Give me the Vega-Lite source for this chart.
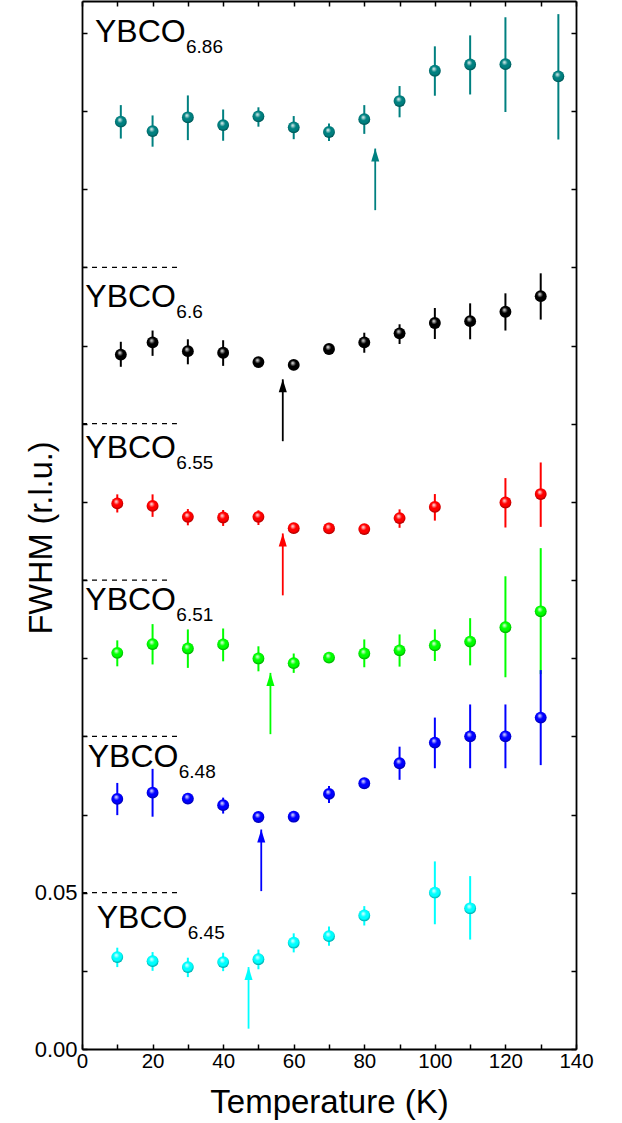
{
  "$schema": "https://vega.github.io/schema/vega-lite/v6.json",
  "width": 494,
  "height": 1048,
  "autosize": {"type": "none"},
  "padding": {"left": 82, "top": 1, "right": 46, "bottom": 74},
  "background": "white",
  "config": {
    "view": {"stroke": null},
    "font": "Liberation Sans",
    "axis": {
      "labelFont": "Liberation Sans",
      "titleFont": "Liberation Sans",
      "labelColor": "black",
      "titleColor": "black",
      "domainColor": "black",
      "tickColor": "black",
      "domainWidth": 1.8,
      "tickWidth": 1.5,
      "tickSize": -5,
      "grid": false,
      "labelFlush": false,
      "labelFontSize": 21,
      "titleFontSize": 32.5,
      "titleFontWeight": "normal"
    }
  },
  "datasets": {
    "points": [
      {"s": "6.86", "T": 11, "v": 0.2966, "lo": 0.2912, "hi": 0.3019},
      {"s": "6.86", "T": 20, "v": 0.2936, "lo": 0.2886, "hi": 0.2986},
      {"s": "6.86", "T": 30, "v": 0.2980, "lo": 0.2907, "hi": 0.3050},
      {"s": "6.86", "T": 40, "v": 0.2955, "lo": 0.2905, "hi": 0.3005},
      {"s": "6.86", "T": 50, "v": 0.2983, "lo": 0.2950, "hi": 0.3012},
      {"s": "6.86", "T": 60, "v": 0.2948, "lo": 0.2910, "hi": 0.2984},
      {"s": "6.86", "T": 70, "v": 0.2933, "lo": 0.2904, "hi": 0.2960},
      {"s": "6.86", "T": 80, "v": 0.2974, "lo": 0.2927, "hi": 0.3019},
      {"s": "6.86", "T": 90, "v": 0.3032, "lo": 0.2980, "hi": 0.3080},
      {"s": "6.86", "T": 100, "v": 0.3129, "lo": 0.3049, "hi": 0.3207},
      {"s": "6.86", "T": 110, "v": 0.3149, "lo": 0.3053, "hi": 0.3242},
      {"s": "6.86", "T": 120, "v": 0.3150, "lo": 0.2997, "hi": 0.3300},
      {"s": "6.86", "T": 135, "v": 0.3111, "lo": 0.2909, "hi": 0.3310},
      {"s": "6.6", "T": 11, "v": 0.2221, "lo": 0.2182, "hi": 0.2262},
      {"s": "6.6", "T": 20, "v": 0.2260, "lo": 0.2217, "hi": 0.2298},
      {"s": "6.6", "T": 30, "v": 0.2232, "lo": 0.2190, "hi": 0.2270},
      {"s": "6.6", "T": 40, "v": 0.2227, "lo": 0.2185, "hi": 0.2267},
      {"s": "6.6", "T": 50, "v": 0.2197, "lo": 0.2187, "hi": 0.2207},
      {"s": "6.6", "T": 60, "v": 0.2188, "lo": 0.2178, "hi": 0.2198},
      {"s": "6.6", "T": 70, "v": 0.2239, "lo": 0.2229, "hi": 0.2249},
      {"s": "6.6", "T": 80, "v": 0.2260, "lo": 0.2227, "hi": 0.2291},
      {"s": "6.6", "T": 90, "v": 0.2289, "lo": 0.2255, "hi": 0.2318},
      {"s": "6.6", "T": 100, "v": 0.2322, "lo": 0.2271, "hi": 0.2370},
      {"s": "6.6", "T": 110, "v": 0.2328, "lo": 0.2270, "hi": 0.2385},
      {"s": "6.6", "T": 120, "v": 0.2358, "lo": 0.2298, "hi": 0.2417},
      {"s": "6.6", "T": 130, "v": 0.2408, "lo": 0.2333, "hi": 0.2481},
      {"s": "6.55", "T": 10, "v": 0.1745, "lo": 0.1716, "hi": 0.1774},
      {"s": "6.55", "T": 20, "v": 0.1737, "lo": 0.1702, "hi": 0.1774},
      {"s": "6.55", "T": 30, "v": 0.1702, "lo": 0.1675, "hi": 0.1727},
      {"s": "6.55", "T": 40, "v": 0.1700, "lo": 0.1673, "hi": 0.1724},
      {"s": "6.55", "T": 50, "v": 0.1702, "lo": 0.1676, "hi": 0.1723},
      {"s": "6.55", "T": 60, "v": 0.1666, "lo": 0.1656, "hi": 0.1676},
      {"s": "6.55", "T": 70, "v": 0.1665, "lo": 0.1655, "hi": 0.1675},
      {"s": "6.55", "T": 80, "v": 0.1663, "lo": 0.1653, "hi": 0.1673},
      {"s": "6.55", "T": 90, "v": 0.1698, "lo": 0.1667, "hi": 0.1726},
      {"s": "6.55", "T": 100, "v": 0.1734, "lo": 0.1690, "hi": 0.1775},
      {"s": "6.55", "T": 120, "v": 0.1748, "lo": 0.1668, "hi": 0.1826},
      {"s": "6.55", "T": 130, "v": 0.1775, "lo": 0.1670, "hi": 0.1876},
      {"s": "6.51", "T": 10, "v": 0.1267, "lo": 0.1224, "hi": 0.1307},
      {"s": "6.51", "T": 20, "v": 0.1295, "lo": 0.1230, "hi": 0.1359},
      {"s": "6.51", "T": 30, "v": 0.1281, "lo": 0.1219, "hi": 0.1342},
      {"s": "6.51", "T": 40, "v": 0.1294, "lo": 0.1240, "hi": 0.1345},
      {"s": "6.51", "T": 50, "v": 0.1249, "lo": 0.1208, "hi": 0.1288},
      {"s": "6.51", "T": 60, "v": 0.1234, "lo": 0.1203, "hi": 0.1265},
      {"s": "6.51", "T": 70, "v": 0.1252, "lo": 0.1240, "hi": 0.1264},
      {"s": "6.51", "T": 80, "v": 0.1265, "lo": 0.1221, "hi": 0.1310},
      {"s": "6.51", "T": 90, "v": 0.1275, "lo": 0.1223, "hi": 0.1326},
      {"s": "6.51", "T": 100, "v": 0.1291, "lo": 0.1241, "hi": 0.1342},
      {"s": "6.51", "T": 110, "v": 0.1303, "lo": 0.1227, "hi": 0.1378},
      {"s": "6.51", "T": 120, "v": 0.1349, "lo": 0.1189, "hi": 0.1512},
      {"s": "6.51", "T": 130, "v": 0.1400, "lo": 0.1199, "hi": 0.1602},
      {"s": "6.48", "T": 10, "v": 0.0800, "lo": 0.0748, "hi": 0.0851},
      {"s": "6.48", "T": 20, "v": 0.0820, "lo": 0.0743, "hi": 0.0896},
      {"s": "6.48", "T": 30, "v": 0.0801, "lo": 0.0791, "hi": 0.0811},
      {"s": "6.48", "T": 40, "v": 0.0780, "lo": 0.0753, "hi": 0.0804},
      {"s": "6.48", "T": 50, "v": 0.0742, "lo": 0.0727, "hi": 0.0757},
      {"s": "6.48", "T": 60, "v": 0.0743, "lo": 0.0733, "hi": 0.0753},
      {"s": "6.48", "T": 70, "v": 0.0816, "lo": 0.0787, "hi": 0.0841},
      {"s": "6.48", "T": 80, "v": 0.0850, "lo": 0.0840, "hi": 0.0860},
      {"s": "6.48", "T": 90, "v": 0.0914, "lo": 0.0861, "hi": 0.0967},
      {"s": "6.48", "T": 100, "v": 0.0980, "lo": 0.0898, "hi": 0.1060},
      {"s": "6.48", "T": 110, "v": 0.1000, "lo": 0.0898, "hi": 0.1102},
      {"s": "6.48", "T": 120, "v": 0.1000, "lo": 0.0898, "hi": 0.1102},
      {"s": "6.48", "T": 130, "v": 0.1060, "lo": 0.0908, "hi": 0.1212},
      {"s": "6.45", "T": 10, "v": 0.0294, "lo": 0.0262, "hi": 0.0324},
      {"s": "6.45", "T": 20, "v": 0.0281, "lo": 0.0250, "hi": 0.0310},
      {"s": "6.45", "T": 30, "v": 0.0262, "lo": 0.0230, "hi": 0.0292},
      {"s": "6.45", "T": 40, "v": 0.0278, "lo": 0.0249, "hi": 0.0308},
      {"s": "6.45", "T": 50, "v": 0.0287, "lo": 0.0255, "hi": 0.0318},
      {"s": "6.45", "T": 60, "v": 0.0340, "lo": 0.0309, "hi": 0.0370},
      {"s": "6.45", "T": 70, "v": 0.0361, "lo": 0.0330, "hi": 0.0392},
      {"s": "6.45", "T": 80, "v": 0.0427, "lo": 0.0395, "hi": 0.0457},
      {"s": "6.45", "T": 100, "v": 0.0500, "lo": 0.0399, "hi": 0.0600},
      {"s": "6.45", "T": 110, "v": 0.0450, "lo": 0.0350, "hi": 0.0553}
    ],
    "arrows": [
      {"s": "6.86", "T": 83.1, "tail": 0.2683, "tip": 0.2880},
      {"s": "6.6", "T": 56.9, "tail": 0.1944, "tip": 0.2142},
      {"s": "6.55", "T": 56.9, "tail": 0.1451, "tip": 0.1649},
      {"s": "6.51", "T": 53.4, "tail": 0.1007, "tip": 0.1203},
      {"s": "6.48", "T": 50.8, "tail": 0.0505, "tip": 0.0702},
      {"s": "6.45", "T": 47.2, "tail": 0.0065, "tip": 0.0262}
    ],
    "labels": [
      {"s": "6.86", "T": 3.69, "y": 0.3221},
      {"s": "6.6", "T": 0.94, "y": 0.2374},
      {"s": "6.55", "T": 0.94, "y": 0.1889},
      {"s": "6.51", "T": 0.94, "y": 0.1403},
      {"s": "6.48", "T": 1.62, "y": 0.0902},
      {"s": "6.45", "T": 4.17, "y": 0.0388}
    ],
    "dashes": [
      {"y": 0.05, "xstart": 0, "xend": 27.8},
      {"y": 0.10, "xstart": 0, "xend": 27.4},
      {"y": 0.15, "xstart": 0, "xend": 25.5},
      {"y": 0.20, "xstart": 0, "xend": 26.9},
      {"y": 0.25, "xstart": 0, "xend": 27.0}
    ]
  },
  "layer": [
    {
      "data": {"name": "dashes"},
      "mark": {"type": "rule", "color": "black", "strokeWidth": 1.2, "strokeDash": [5, 5]},
      "encoding": {
        "x": {
          "field": "xstart",
          "type": "quantitative",
          "scale": {"domain": [0, 140], "nice": false, "zero": false},
          "axis": {
            "orient": "bottom",
            "values": [0, 10, 20, 30, 40, 50, 60, 70, 80, 90, 100, 110, 120, 130, 140],
            "labelExpr": "datum.value % 20 == 0 ? format(datum.value, 'd') : ''",
            "labelBaseline": "alphabetic",
            "labelPadding": 23.5,
            "labelFontSize": 20.5,
            "title": "Temperature (K)",
            "titleFontSize": 33,
            "titleY": 63,
            "titleBaseline": "alphabetic"
          }
        },
        "x2": {"field": "xend"},
        "y": {
          "field": "y",
          "type": "quantitative",
          "scale": {"domain": [0, 0.3352], "nice": false, "zero": false},
          "axis": {
            "orient": "left",
            "values": [0, 0.025, 0.05, 0.075, 0.1, 0.125, 0.15, 0.175, 0.2, 0.225, 0.25, 0.275, 0.3, 0.325],
            "labelExpr": "datum.value == 0 || datum.value == 0.05 ? format(datum.value, '.2f') : ''",
            "labelPadding": 10,
            "labelFontSize": 22,
            "title": "FWHM (r.l.u.)",
            "titleX": -31,
            "titleY": 536.5,
            "titleAngle": 270,
            "titleAlign": "center",
            "titleBaseline": "alphabetic"
          }
        }
      }
    },
    {
      "data": {"name": "points"},
      "mark": {"type": "rule", "strokeWidth": 2},
      "encoding": {
        "x": {"field": "T", "type": "quantitative", "axis": null},
        "y": {"field": "lo", "type": "quantitative", "axis": null},
        "y2": {"field": "hi"},
        "color": {
          "field": "s",
          "type": "nominal",
          "scale": {
            "domain": ["6.86", "6.6", "6.55", "6.51", "6.48", "6.45"],
            "range": ["#008080", "#000000", "#ff0000", "#00ff00", "#0000ff", "#00ffff"]
          },
          "legend": null
        }
      }
    },
    {
      "data": {"name": "arrows"},
      "mark": {"type": "rule", "strokeWidth": 1.8},
      "encoding": {
        "x": {"field": "T", "type": "quantitative", "axis": null},
        "y": {"field": "tail", "type": "quantitative", "axis": null},
        "y2": {"field": "tip"},
        "color": {"field": "s", "type": "nominal", "legend": null}
      }
    },
    {
      "data": {"name": "arrows"},
      "mark": {"type": "point", "shape": "M0,-1L-0.62,1L0.62,1Z", "size": 169, "filled": true, "opacity": 1, "yOffset": 6.5},
      "encoding": {
        "x": {"field": "T", "type": "quantitative", "axis": null},
        "y": {"field": "tip", "type": "quantitative", "axis": null},
        "color": {"field": "s", "type": "nominal", "legend": null}
      }
    },
    {
      "data": {"name": "points"},
      "mark": {"type": "point", "shape": "circle", "size": 140, "filled": true, "opacity": 1},
      "encoding": {
        "x": {
          "field": "T",
          "type": "quantitative",
          "axis": {
            "orient": "top",
            "values": [0, 10, 20, 30, 40, 50, 60, 70, 80, 90, 100, 110, 120, 130, 140],
            "labels": false,
            "title": null
          }
        },
        "y": {
          "field": "v",
          "type": "quantitative",
          "axis": {
            "orient": "right",
            "values": [0, 0.025, 0.05, 0.075, 0.1, 0.125, 0.15, 0.175, 0.2, 0.225, 0.25, 0.275, 0.3, 0.325],
            "labels": false,
            "title": null
          }
        },
        "color": {"field": "s", "type": "nominal", "legend": null}
      }
    },
    {
      "data": {"name": "points"},
      "mark": {
        "type": "point",
        "shape": "circle",
        "size": 140,
        "filled": true,
        "opacity": 1,
        "fill": {
          "gradient": "radial",
          "x1": 0.4, "y1": 0.33, "r1": 0,
          "x2": 0.5, "y2": 0.45, "r2": 0.62,
          "stops": [
            {"offset": 0, "color": "rgba(255,255,255,0.95)"},
            {"offset": 0.15, "color": "rgba(255,255,255,0.6)"},
            {"offset": 0.4, "color": "rgba(255,255,255,0)"},
            {"offset": 0.65, "color": "rgba(0,0,0,0)"},
            {"offset": 0.85, "color": "rgba(0,0,0,0.3)"},
            {"offset": 1, "color": "rgba(0,0,0,0.45)"}
          ]
        }
      },
      "encoding": {
        "x": {"field": "T", "type": "quantitative", "axis": null},
        "y": {"field": "v", "type": "quantitative", "axis": null}
      }
    },
    {
      "data": {"name": "labels"},
      "mark": {"type": "text", "text": "YBCO", "fontSize": 32, "font": "Liberation Sans", "align": "left", "baseline": "alphabetic", "color": "black"},
      "encoding": {
        "x": {"field": "T", "type": "quantitative", "axis": null},
        "y": {"field": "y", "type": "quantitative", "axis": null}
      }
    },
    {
      "data": {"name": "labels"},
      "mark": {"type": "text", "fontSize": 19, "font": "Liberation Sans", "align": "left", "baseline": "alphabetic", "color": "black", "dx": 91, "dy": 11},
      "encoding": {
        "x": {"field": "T", "type": "quantitative", "axis": null},
        "y": {"field": "y", "type": "quantitative", "axis": null},
        "text": {"field": "s", "type": "nominal"}
      }
    }
  ]
}
